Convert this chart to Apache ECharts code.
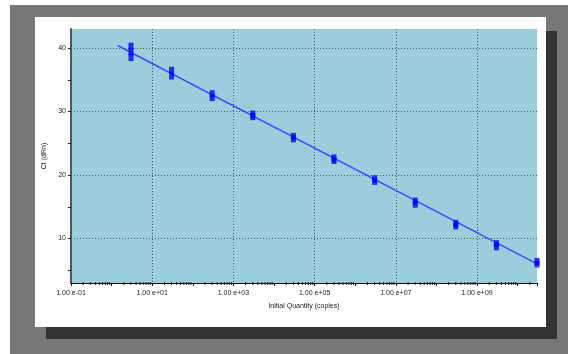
<!DOCTYPE html>
<html>
<head>
<meta charset="utf-8">
<script src="https://cdn.jsdelivr.net/npm/echarts@6/dist/echarts.min.js"></script>
<style>
  html, body { margin:0; padding:0; background:#ffffff; }
  #outer { position:absolute; left:10px; top:5px; width:558px; height:349px; background:#777777; }
  #shadow { position:absolute; left:46px; top:31px; width:511px; height:308px; background:#333333; }
  #panel { position:absolute; left:35px; top:17px; width:511px; height:310px; background:#ffffff; }
  #chart { position:absolute; left:0; top:0; width:568px; height:354px; }
</style>
</head>
<body>
<div id="outer"></div>
<div id="shadow"></div>
<div id="panel"></div>
<div id="chart"></div>
<script>
// ---- data ----
const quantities = [3, 30, 300, 3e3, 3e4, 3e5, 3e6, 3e7, 3e8, 3e9, 3e10];
const ctReplicates = [
  [40.3, 39.4, 38.5],
  [36.5, 35.6],
  [32.8, 32.2],
  [29.6, 29.2],
  [26.1, 25.7],
  [22.7, 22.3],
  [19.4, 19.0],
  [15.9, 15.4],
  [12.4, 12.0],
  [9.2, 8.7],
  [6.4, 6.0]
];
const fitLineX = [1.4, 3e10];
const fitLineY = [40.4, 6.0];

const xLabelValues = [0.1, 10, 1e3, 1e5, 1e7, 1e9];
const xLabelTexts = ['1.00 e-01', '1.00 e+01', '1.00 e+03', '1.00 e+05', '1.00 e+07', '1.00 e+09'];
const yLabelValues = [10, 20, 30, 40];
const yTickValues = [5, 10, 15, 20, 25, 30, 35, 40];
const xMin = 0.1, xMax = 3e10, yMin = 3, yMax = 43;

// log-axis minor tick positions (2..9 within each decade)
const minorTicks = [];
for (let e = -1; e <= 10; e++) {
  for (let m = 2; m <= 9; m++) {
    const v = m * Math.pow(10, e);
    if (v < xMax) minorTicks.push(v);
  }
}

const scatterData = [];
quantities.forEach((q, i) => ctReplicates[i].forEach(ct => scatterData.push([q, ct])));
const lineData = fitLineX.map((x, i) => [x, fitLineY[i]]);

function near(a, b) { return Math.abs(Math.log10(a) - Math.log10(b)) < 1e-6; }

const chart = echarts.init(document.getElementById('chart'), null, { renderer: 'canvas' });
const font = 'Liberation Sans';
const gridLine = { color: '#4a5a60', type: [1, 2], width: 1 };
chart.setOption({
  animation: false,
  grid: { left: 71, top: 29, right: 31, bottom: 71, show: true, backgroundColor: '#9ccddc', borderWidth: 0 },
  xAxis: [{
    type: 'log', logBase: 10, min: xMin, max: xMax, interval: 2,
    name: 'Initial Quantity (copies)', nameLocation: 'middle', nameGap: 20,
    nameTextStyle: { fontFamily: font, fontSize: 7, color: '#222' },
    axisLine: { show: true, lineStyle: { color: '#111', width: 1 } },
    axisTick: { show: false },
    axisLabel: {
      fontFamily: font, fontSize: 7, color: '#222', margin: 7, showMaxLabel: false,
      formatter: v => { const i = xLabelValues.findIndex(t => near(t, v)); return i >= 0 ? xLabelTexts[i] : ''; }
    },
    splitLine: { show: true, showMinLine: false, showMaxLine: false, lineStyle: gridLine }
  }, {
    type: 'log', logBase: 10, min: xMin, max: xMax, interval: 1, position: 'bottom',
    axisLine: { show: false },
    axisTick: { show: true, length: 3, lineStyle: { color: '#111' } },
    axisLabel: { show: false },
    splitLine: { show: false }
  }],
  yAxis: [{
    type: 'value', min: yMin, max: yMax, position: 'left',
    name: 'Ct (dRn)', nameLocation: 'middle', nameGap: 17,
    nameTextStyle: { fontFamily: font, fontSize: 7, color: '#222' },
    axisLine: { show: true, lineStyle: { color: '#555', width: 2 } },
    axisTick: { show: true, length: 3, customValues: yLabelValues, lineStyle: { color: '#222' } },
    axisLabel: { fontFamily: font, fontSize: 7, color: '#222', margin: 5, customValues: yLabelValues },
    splitLine: { show: true, lineStyle: gridLine }
  }, {
    type: 'value', min: yMin, max: yMax, position: 'left', offset: 0,
    axisLine: { show: false },
    axisTick: { show: true, length: 3, customValues: yTickValues, lineStyle: { color: '#222' } },
    axisLabel: { show: false },
    splitLine: { show: false }
  }],
  series: [{
    type: 'custom', silent: true, xAxisIndex: 0,
    data: minorTicks.map(v => [v, yMin]),
    renderItem: (params, api) => {
      const p = api.coord([api.value(0), api.value(1)]);
      return { type: 'line', shape: { x1: p[0], y1: p[1] - 1, x2: p[0], y2: p[1] + 2 }, style: { stroke: '#222', lineWidth: 1 } };
    },
    clip: false, z: 1
  }, {
    type: 'line', data: lineData, showSymbol: false, silent: true,
    lineStyle: { color: '#3a4cff', width: 1.5 }, z: 2
  }, {
    type: 'scatter', data: scatterData, symbol: 'rect', symbolSize: [5, 7],
    itemStyle: { color: '#0000ff' }, z: 3
  }]
});
</script>
</body>
</html>
